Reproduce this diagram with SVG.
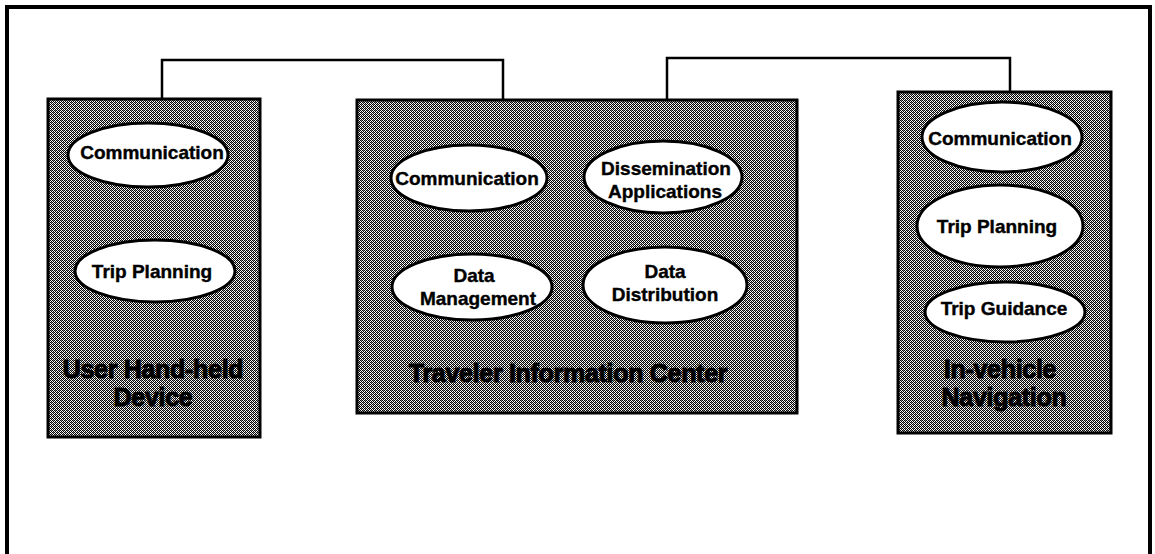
<svg xmlns="http://www.w3.org/2000/svg" width="1155" height="554" viewBox="0 0 1155 554">
<defs>
<pattern id="dither" patternUnits="userSpaceOnUse" width="4" height="4">
<rect width="4" height="4" fill="#fff"/>
<rect x="0" y="0" width="1" height="1" fill="#000"/>
<rect x="1" y="1" width="1" height="1" fill="#000"/>
<rect x="2" y="2" width="1" height="1" fill="#000"/>
<rect x="3" y="3" width="1" height="1" fill="#000"/>
<rect x="2" y="0" width="1" height="1" fill="#000"/>
<rect x="3" y="1" width="1" height="1" fill="#000"/>
<rect x="0" y="2" width="1" height="1" fill="#000"/>
<rect x="1" y="3" width="1" height="1" fill="#000"/>
<rect x="1" y="0" width="1" height="1" fill="#888"/>
<rect x="3" y="2" width="1" height="1" fill="#888"/>
</pattern>
<style>
.box{fill:url(#dither);stroke:#000;stroke-width:3}
.ell{fill:#fff;stroke:#000;stroke-width:3}
.t{font-family:"Liberation Sans",Arial,sans-serif;font-weight:bold;font-size:19px;fill:#000;text-anchor:middle;stroke:#000;stroke-width:0.4px}
.lbl{font-family:"Liberation Sans",Arial,sans-serif;font-weight:bold;font-size:25px;fill:#000;text-anchor:middle;letter-spacing:-0.3px;stroke:#000;stroke-width:1px}
.conn{fill:none;stroke:#000;stroke-width:2.5}
</style>
</defs>
<rect x="7" y="7" width="1143" height="600" fill="none" stroke="#000" stroke-width="4"/>
<g id="connectors">
<polyline class="conn" points="162,99 162,60 503,60 503,100"/>
<polyline class="conn" points="667,100 667,58 1010,58 1010,92"/>
</g>
<g id="user-handheld-device">
<rect class="box" x="48" y="99" width="212" height="338"/>
<ellipse class="ell" cx="148" cy="155" rx="80" ry="32"/>
<text class="t" x="152" y="159">Communication</text>
<ellipse class="ell" cx="155" cy="271" rx="80" ry="31"/>
<text class="t" x="152" y="278">Trip Planning</text>
<text class="lbl" x="153" y="378">User Hand-held</text>
<text class="lbl" x="153" y="406">Device</text>
</g>
<g id="traveler-information-center">
<rect class="box" x="357" y="100" width="440" height="313"/>
<ellipse class="ell" cx="469" cy="178" rx="78" ry="33"/>
<text class="t" x="467" y="185">Communication</text>
<ellipse class="ell" cx="663" cy="177" rx="79" ry="36"/>
<text class="t" x="666" y="175">Dissemination</text>
<text class="t" x="665" y="198">Applications</text>
<ellipse class="ell" cx="472" cy="287" rx="80" ry="33"/>
<text class="t" x="474" y="282">Data</text>
<text class="t" x="478" y="305">Management</text>
<ellipse class="ell" cx="665" cy="285" rx="82" ry="38"/>
<text class="t" x="665" y="278">Data</text>
<text class="t" x="665" y="301">Distribution</text>
<text class="lbl" x="568" y="382">Traveler Information Center</text>
</g>
<g id="in-vehicle-navigation">
<rect class="box" x="898" y="92" width="213" height="341"/>
<ellipse class="ell" cx="1002" cy="137" rx="80" ry="35"/>
<text class="t" x="1000" y="145">Communication</text>
<ellipse class="ell" cx="1000" cy="226" rx="83" ry="41"/>
<text class="t" x="997" y="233">Trip Planning</text>
<ellipse class="ell" cx="1005" cy="312" rx="80" ry="30"/>
<text class="t" x="1004" y="315">Trip Guidance</text>
<text class="lbl" x="1000" y="378">In-vehicle</text>
<text class="lbl" x="1004" y="406">Navigation</text>
</g>
</svg>
